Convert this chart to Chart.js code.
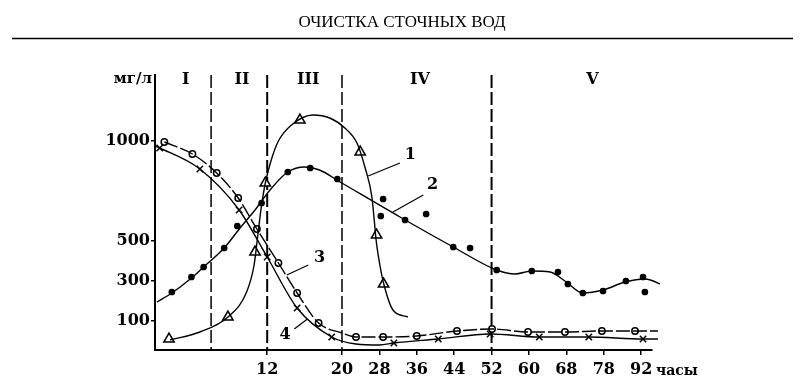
<!DOCTYPE html>
<html>
<head>
<meta charset="utf-8">
<script src="https://cdn.jsdelivr.net/npm/chart.js@4"></script>
<style>
  html, body { margin: 0; background: #fff; }
  #wrap { width: 804px; height: 391px; }
</style>
</head>
<body>
<div id="wrap"><canvas id="myChart"></canvas></div>
<script>
// the time axis is not linear: each of these hours sits one equal step apart
const axisHours = [0, 4, 8, 12, 16, 20, 28, 36, 44, 52, 60, 68, 78, 92];
const tickHours = [12, 20, 28, 36, 44, 52, 60, 68, 78, 92];
const yTicks = [100, 300, 500, 1000];
const stageBounds = [6, 12, 20, 52];
const stageNames = ['I', 'II', 'III', 'IV', 'V'];
const stageLabelHours = [3.3, 9.3, 16.4, 36.7, 75];

// curve 1 (triangles)
const c1LineH = [1.6, 4.8, 7.8, 9.8, 10.6, 11.0, 11.4, 11.8, 12.4, 13.2, 14.6, 16.9, 18.7, 20.6, 23.2, 24.9, 26.4, 26.9, 27.3, 28.1, 29.0, 30.9, 34.1];
const c1LineV = [5, 45, 120, 245, 380, 530, 680, 790, 900, 1000, 1080, 1130, 1115, 1065, 990, 870, 720, 605, 505, 380, 280, 155, 120];
const c1MarkH = [1.5, 7.8, 10.7, 11.8, 15.5, 23.9, 27.4, 28.9];
const c1MarkV = [10, 120, 445, 790, 1105, 945, 530, 285];

// curve 2 (dots)
const c2LineH = [0.2, 1.8, 3.9, 5.2, 7.4, 9.1, 10.7, 12.3, 14.2, 16.0, 17.6, 19.8, 32.4, 43.8, 53.1, 57.0, 60.6, 64.5, 67.7, 72.4, 77.8, 86.0, 93.4, 99, 102.8];
const c2LineV = [195, 240, 315, 370, 465, 565, 655, 755, 845, 870, 855, 795, 620, 470, 355, 335, 350, 345, 300, 240, 255, 295, 310, 285, 255];
const c2MarkH = [1.8, 3.9, 5.2, 7.4, 8.8, 11.4, 14.2, 16.6, 19.5, 28.8, 28.3, 33.5, 38, 43.8, 47.4, 53.1, 60.6, 66.2, 68.4, 72.4, 77.8, 86.3, 92.7, 93.4];
const c2MarkV = [245, 320, 370, 465, 575, 690, 845, 865, 810, 710, 625, 605, 635, 470, 465, 355, 350, 345, 285, 240, 250, 300, 320, 245];

// curve 3 (open circles)
const c3LineH = [1.0, 4.0, 6.6, 8.9, 10.9, 13.2, 15.2, 17.5, 20, 23.0, 28.8, 36, 44.6, 52.1, 59.8, 67.7, 77.5, 89.7, 98.3];
const c3LineV = [995, 935, 840, 715, 560, 390, 240, 90, 40, 20, 20, 25, 50, 60, 45, 45, 50, 50, 50];
const c3MarkH = [1.0, 4.0, 6.6, 8.9, 10.9, 13.2, 15.2, 17.5, 23.0, 28.8, 36, 44.6, 52.1, 59.8, 67.7, 77.5, 89.7];
const c3MarkV = [995, 935, 840, 715, 560, 390, 240, 90, 20, 20, 25, 50, 60, 45, 45, 50, 50];

// curve 4 (crosses)
const c4LineH = [0, 0.5, 4.8, 9.0, 12.0, 15.2, 18.9, 23, 28, 31.1, 40.6, 51.7, 62.2, 74, 92.7, 98.3];
const c4LineV = [975, 965, 860, 655, 420, 165, 20, -15, -20, -10, 10, 35, 20, 20, 10, 10];
const c4MarkH = [0.5, 4.8, 9.0, 12.0, 15.2, 18.9, 31.1, 40.6, 51.7, 62.2, 74, 92.7];
const c4MarkV = [965, 860, 655, 420, 165, 20, -10, 10, 35, 20, 20, 10];

// curve numbers with their leader lines [text h, text v, from h, from v, to h, to v]
const curveLabels = ['1', '2', '3', '4'];
const curveLabelPos = [
  [34.6, 930, 25.6, 825, 32.4, 890],
  [39.4, 780, 30.9, 645, 37.4, 730],
  [17.6, 415, 14.1, 330, 16.4, 380],
  [13.9, 30, 14.9, 60, 16.3, 110]
];

function hToPos(h) {
  for (let i = 0; i < axisHours.length - 1; i++) {
    if (h <= axisHours[i + 1]) {
      return i + (h - axisHours[i]) / (axisHours[i + 1] - axisHours[i]);
    }
  }
  const n = axisHours.length - 1;
  return n + (h - axisHours[n]) / (axisHours[n] - axisHours[n - 1]);
}

function pts(hs, vs) {
  return hs.map((h, i) => ({ x: hToPos(h), y: vs[i] }));
}

const serif = 'DejaVu Serif';

function lineSet(hs, vs, dash) {
  return {
    data: pts(hs, vs),
    showLine: true,
    borderColor: '#000',
    borderWidth: 1.4,
    borderDash: dash || [],
    pointRadius: 0,
    cubicInterpolationMode: 'monotone',
    clip: false
  };
}

function markSet(hs, vs, style, r, fill) {
  return {
    data: pts(hs, vs),
    showLine: false,
    pointStyle: style,
    pointRadius: r,
    pointBorderColor: '#000',
    pointBackgroundColor: fill,
    pointBorderWidth: 1.5,
    clip: false
  };
}

const extras = {
  id: 'extras',
  beforeDraw(chart) {
    const c = chart.ctx;
    c.save();
    c.fillStyle = '#fff';
    c.fillRect(0, 0, chart.width, chart.height);
    c.restore();
  },
  beforeDatasetsDraw(chart) {
    const c = chart.ctx, xs = chart.scales.x, a = chart.chartArea;
    c.save();
    c.strokeStyle = '#000';
    c.setLineDash([13, 4]);
    stageBounds.forEach((h, i) => {
      c.lineWidth = (i % 2) ? 2 : 1.5;
      const px = xs.getPixelForValue(hToPos(h));
      c.beginPath();
      c.moveTo(px, a.top);
      c.lineTo(px, a.bottom);
      c.stroke();
    });
    c.restore();
  },
  afterDraw(chart) {
    const c = chart.ctx, xs = chart.scales.x, ys = chart.scales.y, a = chart.chartArea;
    const X = h => xs.getPixelForValue(hToPos(h));
    c.save();
    c.fillStyle = '#000';
    c.strokeStyle = '#000';

    // running header
    c.font = '17px "Liberation Serif"';
    c.textAlign = 'center';
    c.textBaseline = 'middle';
    c.fillText('ОЧИСТКА СТОЧНЫХ ВОД', 402, 23);
    c.lineWidth = 1.6;
    c.beginPath();
    c.moveTo(12, 38.5);
    c.lineTo(793, 38.5);
    c.stroke();

    // stage numerals
    c.font = 'bold 16px "' + serif + '"';
    stageNames.forEach((s, i) => c.fillText(s, X(stageLabelHours[i]), 80));

    // axis titles
    c.font = 'bold 15px "' + serif + '"';
    c.textAlign = 'right';
    c.fillText('мг/л', a.left - 3, 79);
    c.textAlign = 'left';
    c.font = 'bold 14px "' + serif + '"';
    c.fillText('часы', a.right + 4, 371);

    // curve numbers
    c.font = 'bold 16px "' + serif + '"';
    c.textAlign = 'center';
    c.lineWidth = 1.2;
    curveLabels.forEach((t, i) => {
      const p = curveLabelPos[i];
      c.fillText(t, X(p[0]), ys.getPixelForValue(p[1]));
      c.beginPath();
      c.moveTo(X(p[2]), ys.getPixelForValue(p[3]));
      c.lineTo(X(p[4]), ys.getPixelForValue(p[5]));
      c.stroke();
    });
    c.restore();
  }
};

const tickFont = { family: serif, weight: 'bold', size: 16 };

const config = {
  type: 'scatter',
  data: {
    datasets: [
      lineSet(c1LineH, c1LineV),
      markSet(c1MarkH, c1MarkV, 'triangle', 6, '#fff'),
      lineSet(c2LineH, c2LineV),
      markSet(c2MarkH, c2MarkV, 'circle', 2.6, '#000'),
      lineSet(c3LineH, c3LineV, [14, 3]),
      markSet(c3MarkH, c3MarkV, 'circle', 3.2, '#fff'),
      lineSet(c4LineH, c4LineV),
      markSet(c4MarkH, c4MarkV, 'crossRot', 4.5, '#000')
    ]
  },
  options: {
    responsive: true,
    maintainAspectRatio: false,
    animation: false,
    layout: { padding: { top: 75, right: 152, bottom: 0, left: 0 } },
    plugins: { legend: { display: false }, tooltip: { enabled: false } },
    scales: {
      x: {
        type: 'linear',
        min: 0,
        max: 13.29,
        border: { color: '#000', width: 2 },
        grid: { drawOnChartArea: false, color: '#000', lineWidth: 1.5, tickLength: 5 },
        afterBuildTicks: s => { s.ticks = tickHours.map(h => ({ value: hToPos(h) })); },
        afterFit: s => { s.height = 41; },
        ticks: {
          color: '#000',
          font: tickFont,
          padding: 5,
          maxRotation: 0,
          autoSkip: false,
          callback: (v, i) => String(tickHours[i])
        }
      },
      y: {
        min: -45,
        max: 1330,
        border: { color: '#000', width: 2 },
        grid: { drawOnChartArea: false, color: '#000', lineWidth: 1.5, tickLength: 4 },
        afterBuildTicks: s => { s.ticks = yTicks.map(v => ({ value: v })); },
        afterFit: s => { s.width = 155; },
        ticks: { color: '#000', font: tickFont, padding: 1, callback: v => String(v) }
      }
    }
  },
  plugins: [extras]
};

const myChart = new Chart(document.getElementById('myChart').getContext('2d'), config);
</script>
</body>
</html>
